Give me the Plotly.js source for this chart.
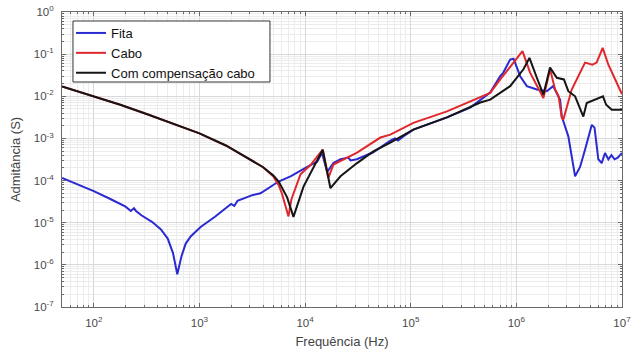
<!DOCTYPE html>
<html>
<head>
<meta charset="utf-8">
<script src="https://cdn.plot.ly/plotly-3.0.1.min.js"></script>
<style>
html,body{margin:0;padding:0;background:#fff;}
#chart{width:631px;height:349px;}
</style>
</head>
<body>
<div id="chart"></div>
<script>
// ---- Data (frequency in Hz, admittance in S) ----
var seriesNames = ["Fita", "Cabo", "Com compensação cabo"];

var fitaFreq = [50,100,145,178,200,224,240,251,282,355,
  430,501,562,617,676,741,826,1026,1413,1845,
  1995,2138,2291,3162,3784,5610,7278,10470,13000,14450,
  16180,18530,21630,25700,26920,30900,44260,64120,70790,75860,
  85110,105900,220300,365600,564900,703100,749900,873000,939700,1.087e6,
  1.256e6,1.563e6,1.941e6,2.228e6,2.594e6,2.692e6,3.105e6,3.597e6,4.009e6,4.467e6,
  5.176e6,5.495e6,5.970e6,6.427e6,6.902e6,7.430e6,7.943e6,8.511e6,9.120e6,1e7];
var fitaAdm = [1.15e-4,5.6e-5,3.6e-5,2.7e-5,2.4e-5,1.9e-5,2.2e-5,1.9e-5,1.5e-5,1.05e-5,
  7.0e-6,4.2e-6,1.9e-6,6.0e-7,1.6e-6,3.2e-6,4.7e-6,7.9e-6,1.4e-5,2.4e-5,
  2.8e-5,2.5e-5,3.3e-5,4.5e-5,5.0e-5,9.5e-5,1.26e-4,2.1e-4,2.8e-4,4.5e-4,
  1.6e-4,2.6e-4,3.2e-4,3.5e-4,3.0e-4,3.2e-4,4.7e-4,8.9e-4,1.0e-3,8.9e-4,
  1.12e-3,1.62e-3,3.16e-3,5.4e-3,0.0123,0.030,0.036,0.074,0.078,0.030,
  0.0174,0.0145,0.0132,0.0174,0.0083,0.0033,0.00112,1.26e-4,2.1e-4,5.4e-4,
  2.1e-3,1.8e-3,3.2e-4,2.6e-4,4.5e-4,3.2e-4,4.0e-4,3.2e-4,3.5e-4,4.5e-4];

var caboFreq = [50,100,178,316,562,1000,1778,3162,3981,5012,5610,6026,
  6966,7413,8414,9057,11250,14690,16600,18530,31050,51640,
  64120,105900,220300,365600,564900,703100,873000,1.143e6,1.349e6,1.563e6,
  1.803e6,2.084e6,2.328e6,2.512e6,2.692e6,2.786e6,3.342e6,4.467e6,5.248e6,5.754e6,
  6.561e6,7.430e6,9.572e6,1e7];
var caboAdm = [0.017,0.01,6.3e-3,3.8e-3,2.24e-3,1.32e-3,6.8e-4,3.0e-4,2.1e-4,1.25e-4,7.9e-5,5.0e-5,
  1.41e-5,3.55e-5,8.9e-5,1.41e-4,2.34e-4,5.4e-4,1.15e-4,2.4e-4,4.6e-4,1.05e-3,
  1.23e-3,2.34e-3,4.37e-3,7.6e-3,0.012,0.0251,0.0513,0.1175,0.0363,0.0174,
  0.0091,0.0437,0.0145,0.01,0.0031,0.0028,0.0145,0.063,0.056,0.063,
  0.141,0.056,0.0132,0.0112];

var compFreq = [50,100,178,316,562,1000,1778,3162,3981,5012,5623,6761,
  7762,9661,11990,14690,17380,21630,31050,44260,64120,105900,
  220300,455000,565000,703000,873000,1.167e6,1.33e6,1.563e6,1.803e6,2.084e6,
  2.415e6,2.818e6,3.105e6,3.597e6,4.305e6,4.634e6,5.248e6,6.194e6,6.607e6,7.079e6,
  8.0e6,1e7];
var compAdm = [0.017,0.01,6.3e-3,3.8e-3,2.24e-3,1.32e-3,6.8e-4,3.0e-4,2.1e-4,1.32e-4,9.5e-5,4.0e-5,
  1.38e-5,7.2e-5,2.0e-4,5.4e-4,6.6e-5,1.26e-4,2.6e-4,4.9e-4,7.9e-4,1.62e-3,
  3.16e-3,7.1e-3,8.3e-3,0.0123,0.0174,0.0437,0.0813,0.0275,0.011,0.0479,
  0.0275,0.0251,0.0132,0.01,0.0033,0.0069,0.0079,0.0091,0.01,0.0063,
  0.0048,0.0048];

var xTickExps = [2,3,4,5,6,7];
var yTickExps = [-7,-6,-5,-4,-3,-2,-1,0];
var xTitle = "Frequência (Hz)";
var yTitle = "Admitância (S)";

// ---- Layout helpers ----
function decadeTicks(exps){ return exps.map(function(e){ return Math.pow(10,e); }); }
function decadeText(exps){ return exps.map(function(e){ return "10<sup>" + (e<0?"-":"") + Math.abs(e) + "</sup>"; }); }
function minorVals(lo, hi){
  var out = [];
  for (var e = lo; e <= hi; e++){
    for (var m = 2; m <= 9; m++){ out.push(m*Math.pow(10,e)); }
  }
  return out;
}

var font = "Liberation Sans, Arial, Helvetica, sans-serif";
var traces = [
  {x: fitaFreq, y: fitaAdm, name: seriesNames[0], mode: "lines", line: {color: "#2a2ad0", width: 2}},
  {x: caboFreq, y: caboAdm, name: seriesNames[1], mode: "lines", line: {color: "#e0282c", width: 2}},
  {x: compFreq, y: compAdm, name: seriesNames[2], mode: "lines", line: {color: "#151515", width: 2}}
];

var axisCommon = {
  type: "log",
  tickmode: "array",
  showgrid: true,
  gridcolor: "#d9d9d9",
  gridwidth: 1,
  zeroline: false,
  showline: true,
  linecolor: "#6a6a6a",
  linewidth: 1,
  mirror: "ticks",
  ticks: "inside",
  ticklen: 4,
  tickcolor: "#6a6a6a",
  ticklabeloverflow: "allow",
  tickfont: {family: font, size: 11.5, color: "#4a4a4a"}
};

var layout = {
  width: 631, height: 349,
  margin: {l: 62, r: 9, t: 12, b: 42},
  paper_bgcolor: "#fff",
  plot_bgcolor: "#fff",
  showlegend: true,
  legend: {
    x: 0.0161, y: 0.9797, xanchor: "left", yanchor: "top",
    bgcolor: "rgba(0,0,0,0)", borderwidth: 0,
    font: {family: font, size: 13, color: "#111"},
    tracegroupgap: 0, itemwidth: 30
  },
  shapes: [{
    type: "rect", xref: "paper", yref: "paper", layer: "above",
    x0: 0.0196, x1: 0.3714, y0: 0.7627, y1: 0.9695,
    fillcolor: "#ffffff", line: {color: "#333", width: 1}
  }],
  xaxis: Object.assign({}, axisCommon, {
    range: [Math.log10(50), 7],
    tickvals: decadeTicks(xTickExps),
    ticktext: decadeText(xTickExps),
    ticklabelstandoff: 5,
    minor: {tickmode: "array", tickvals: minorVals(1, 6), showgrid: true, gridcolor: "#ececec", ticks: "inside", ticklen: 2, tickcolor: "#6a6a6a"},
    title: {text: xTitle, font: {family: font, size: 13, color: "#444"}, standoff: 10}
  }),
  yaxis: Object.assign({}, axisCommon, {
    range: [-7, 0],
    tickvals: decadeTicks(yTickExps),
    ticktext: decadeText(yTickExps),
    ticklabelstandoff: 5,
    minor: {tickmode: "array", tickvals: minorVals(-7, -1), showgrid: true, gridcolor: "#ececec", ticks: "inside", ticklen: 2, tickcolor: "#6a6a6a"},
    title: {text: yTitle, font: {family: font, size: 13, color: "#444"}, standoff: 10}
  })
};

Plotly.newPlot("chart", traces, layout, {displayModeBar: false, staticPlot: true});
</script>
</body>
</html>
